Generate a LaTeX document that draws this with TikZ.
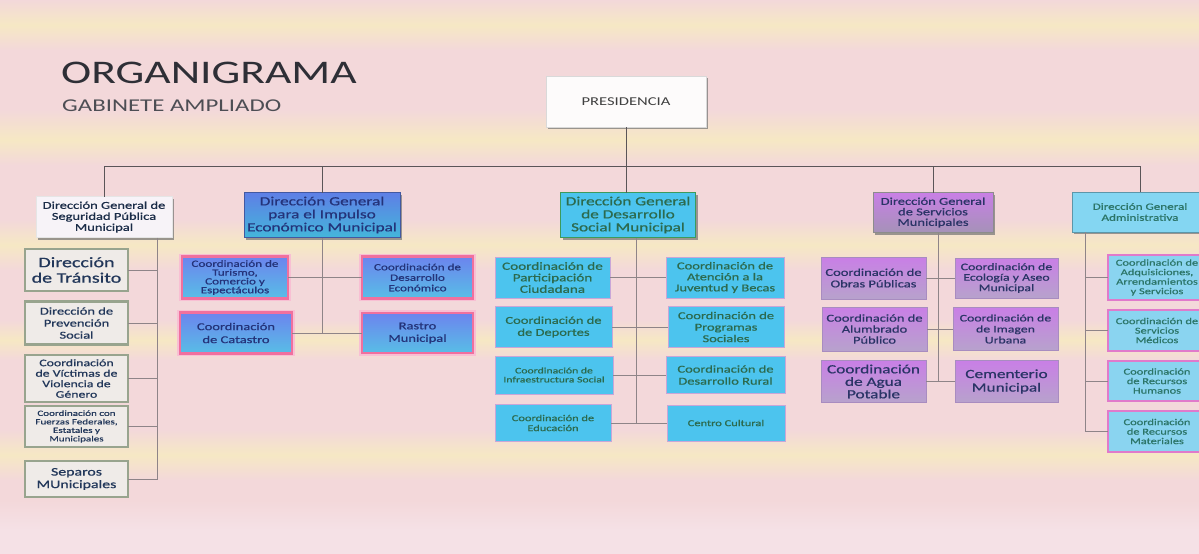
\documentclass[tikz,border=0pt]{standalone}
\usepackage{fontspec}
\setmainfont{Carlito}[FakeStretch=1.38, FakeBold=0.8]
\newfontfamily\titlefont{Carlito}[FakeStretch=1.38]
\usetikzlibrary{shadows}
\newcommand\fsz[2]{\fontsize{#1pt}{#2pt}\selectfont}
\definecolor{bgA}{HTML}{F3D8DA}
\definecolor{bgB}{HTML}{F6E8C4}
\definecolor{bgC}{HTML}{F5E1E6}
\definecolor{titlec}{HTML}{2E2F36}
\definecolor{busc}{HTML}{5A5558}
\definecolor{linkc}{HTML}{8E8488}
\definecolor{segf}{HTML}{EFEBE8}
\definecolor{segb}{HTML}{98A48E}
\definecolor{segt}{HTML}{22375A}
\definecolor{dgsegf}{HTML}{F7F3F8}
\definecolor{impA}{HTML}{6C84EE}
\definecolor{impB}{HTML}{58BEE6}
\definecolor{impglow}{HTML}{F0709E}
\definecolor{impt}{HTML}{24337A}
\definecolor{dgimpA}{HTML}{5E7FE6}
\definecolor{dgimpB}{HTML}{44B6DA}
\definecolor{socf}{HTML}{4CC4EE}
\definecolor{socb}{HTML}{C8A6D8}
\definecolor{dgsocb}{HTML}{3C9A5C}
\definecolor{soct}{HTML}{2C6A4E}
\definecolor{servA}{HTML}{C97FE6}
\definecolor{servB}{HTML}{B7A2CC}
\definecolor{servb}{HTML}{A88CC0}
\definecolor{servt}{HTML}{2A3466}
\definecolor{admf}{HTML}{8AD4F0}
\definecolor{admb}{HTML}{E07ACB}
\definecolor{admt}{HTML}{2C7568}
\definecolor{dgadmf}{HTML}{84D6F2}
\definecolor{presf}{HTML}{FDFBFB}
\tikzset{
  box/.style={align=center, inner sep=0pt, outer sep=0pt},
  dgshadow/.style={drop shadow={shadow xshift=2pt, shadow yshift=-2pt, fill=black!55, opacity=.7}},
  pres/.style={box, fill=presf, draw=black!15, line width=.6pt, text=black!75, dgshadow},
  dgseg/.style={box, fill=dgsegf, draw=black!10, line width=.6pt, text=segt!80!black, dgshadow},
  segbox/.style={box, fill=segf, draw=segb, line width=2.2pt, text=segt},
  dgimp/.style={box, top color=dgimpA, bottom color=dgimpB, draw=dgimpA!70!black, line width=.8pt, text=impt, dgshadow},
  impbox/.style={box, top color=impA, bottom color=impB, draw=impglow, line width=2.4pt, text=impt,
     preaction={draw=impglow!45, line width=5.5pt}},
  dgsoc/.style={box, fill=socf, draw=dgsocb, line width=1.6pt, text=soct, dgshadow},
  socbox/.style={box, fill=socf, draw=socb, line width=1pt, text=soct},
  dgserv/.style={box, top color=servA, bottom color=servB!90!black, draw=black!45, line width=.8pt, text=servt, dgshadow},
  servbox/.style={box, top color=servA, bottom color=servB, draw=servb, line width=1pt, text=servt},
  dgadm/.style={box, fill=dgadmf, draw=dgadmf!70!black, line width=.8pt, text=admt, dgshadow},
  admbox/.style={box, fill=admf, draw=admb, line width=1.4pt, text=admt},
  bus/.style={draw=busc, line width=.8pt},
  link/.style={draw=linkc, line width=.6pt}
}
\begin{document}
\begin{tikzpicture}[x=1pt,y=-1pt]
\useasboundingbox (0,0) rectangle (1199,554);
\clip (0,0) rectangle (1199,554);
% background
\fill[bgA] (0,0) rectangle (1199,554);
\foreach \ya/\yb/\ca/\cb in {0/25/bgA/bgB, 25/50/bgB/bgA, 110/140/bgA/bgB, 140/165/bgB/bgA,
   220/245/bgA/bgB, 245/270/bgB/bgA, 320/340/bgA/bgB, 340/360/bgB/bgA,
   430/455/bgA/bgB, 455/480/bgB/bgA, 500/530/bgA/bgC, 530/554/bgC/bgC}
  {\shade[top color=\ca, bottom color=\cb] (0,\ya) rectangle (1199,\yb);}
% title
\node[anchor=base west, font=\titlefont\fsz{33}{33}, text=titlec, inner sep=0pt] (title) at (61,83) {ORGANIGRAMA};
\node[anchor=base west, font=\titlefont\fsz{18}{18}, text=titlec!85, inner sep=0pt] (subtitle) at (62,111) {GABINETE AMPLIADO};
% presidencia
\node[pres, minimum width=160pt, minimum height=51pt, font=\titlefont\fsz{12}{12}] (pres) at (626,101.5) {PRESIDENCIA};
% direcciones generales
\node[dgseg, minimum width=136pt, minimum height=41pt, font=\fsz{10.5}{11}] (dgseg) at (104,217) {Dirección General de\\Seguridad Pública\\Municipal};
\node[dgimp, minimum width=156pt, minimum height=45pt, font=\fsz{12.5}{13}] (dgimp) at (322,215) {Dirección General\\para el Impulso\\Económico Municipal};
\node[dgsoc, minimum width=135pt, minimum height=45pt, font=\fsz{12.5}{13}] (dgsoc) at (628,215) {Dirección General\\de Desarrollo\\Social Municipal};
\node[dgserv, minimum width=120pt, minimum height=40pt, font=\fsz{10.5}{10.5}] (dgserv) at (933,212.5) {Dirección General\\de Servicios\\Municipales};
\node[dgadm, minimum width=136pt, minimum height=40pt, font=\fsz{9.5}{11}] (dgadm) at (1140,212) {Dirección General\\Administrativa};
% seguridad
\node[segbox, minimum width=103pt, minimum height=42pt, font=\fsz{14.5}{15.5}] (transito) at (76.5,270) {Dirección\\de Tránsito};
\node[segbox, minimum width=103pt, minimum height=43pt, font=\fsz{10.5}{12}] (prevencion) at (76.5,323) {Dirección de\\Prevención\\Social};
\node[segbox, minimum width=103pt, minimum height=47pt, font=\fsz{10}{10.5}] (victimas) at (76.5,378.5) {Coordinación\\de Víctimas de\\Violencia de\\Género};
\node[segbox, minimum width=103pt, minimum height=41pt, font=\fsz{8}{8.5}] (fuerzas) at (76.5,426.5) {Coordinación con\\Fuerzas Federales,\\Estatales y\\Municipales};
\node[segbox, minimum width=103pt, minimum height=36pt, font=\fsz{11.5}{12.5}] (separos) at (76.5,479) {Separos\\MUnicipales};
% impulso economico
\node[impbox, minimum width=106pt, minimum height=42pt, font=\fsz{9.5}{8.8}] (turismo) at (235,277.5) {Coordinación de\\Turismo,\\Comercio y\\Espectáculos};
\node[impbox, minimum width=112pt, minimum height=41pt, font=\fsz{10.5}{13}] (catastro) at (236,333) {Coordinación\\de Catastro};
\node[impbox, minimum width=111pt, minimum height=42pt, font=\fsz{9.5}{10.5}] (desaecon) at (417.5,277.5) {Coordinación de\\Desarrollo\\Económico};
\node[impbox, minimum width=111pt, minimum height=40pt, font=\fsz{10.5}{12.5}] (rastro) at (417.5,333) {Rastro\\Municipal};
% desarrollo social
\node[socbox, minimum width=115pt, minimum height=41pt, font=\fsz{11}{11.5}] (partic) at (552.5,277.5) {Coordinación de\\Participación\\Ciudadana};
\node[socbox, minimum width=117pt, minimum height=41pt, font=\fsz{10.5}{12}] (deportes) at (553.5,327) {Coordinación de\\de Deportes};
\node[socbox, minimum width=118pt, minimum height=38pt, font=\fsz{8.5}{9}] (infra) at (554,375) {Coordinación de\\Infraestructura Social};
\node[socbox, minimum width=116pt, minimum height=37pt, font=\fsz{9}{10}] (educ) at (553,423) {Coordinación de\\Educación};
\node[socbox, minimum width=118pt, minimum height=41pt, font=\fsz{10.5}{11}] (juventud) at (725,277.5) {Coordinación de\\Atención a la\\Juventud y Becas};
\node[socbox, minimum width=116pt, minimum height=41pt, font=\fsz{10.5}{11.5}] (programas) at (726,327) {Coordinación de\\Programas\\Sociales};
\node[socbox, minimum width=119pt, minimum height=37pt, font=\fsz{10.5}{12}] (rural) at (725.5,375) {Coordinación de\\Desarrollo Rural};
\node[socbox, minimum width=118pt, minimum height=36pt, font=\fsz{9}{10}] (centro) at (726,423) {Centro Cultural};
% servicios municipales
\node[servbox, minimum width=105pt, minimum height=42pt, font=\fsz{10.5}{11.5}] (obras) at (873.5,278) {Coordinación de\\Obras Públicas};
\node[servbox, minimum width=105pt, minimum height=44pt, font=\fsz{10.5}{11}] (alumbrado) at (874.5,329) {Coordinación de\\Alumbrado\\Público};
\node[servbox, minimum width=105pt, minimum height=42pt, font=\fsz{12.5}{12.5}] (agua) at (873.5,381.5) {Coordinación\\de Agua\\Potable};
\node[servbox, minimum width=103pt, minimum height=40pt, font=\fsz{10}{10.5}] (ecologia) at (1006.5,278) {Coordinación de\\Ecología y Aseo\\Municipal};
\node[servbox, minimum width=105pt, minimum height=43pt, font=\fsz{10}{11}] (imagen) at (1005.5,329) {Coordinación de\\de Imagen\\Urbana};
\node[servbox, minimum width=103pt, minimum height=42pt, font=\fsz{12.5}{13.5}] (cementerio) at (1006.5,381.5) {Cementerio\\Municipal};
% administrativa
\node[admbox, minimum width=98pt, minimum height=45pt, font=\fsz{9}{9.5}] (adq) at (1157,277.5) {Coordinación de\\Adquisiciones,\\Arrendamientos\\y Servicios};
\node[admbox, minimum width=98pt, minimum height=41pt, font=\fsz{9}{9.5}] (medicos) at (1157,330.5) {Coordinación de\\Servicios\\Médicos};
\node[admbox, minimum width=98pt, minimum height=40pt, font=\fsz{9}{9.5}] (rh) at (1157,381) {Coordinación\\de Recursos\\Humanos};
\node[admbox, minimum width=98pt, minimum height=41pt, font=\fsz{9}{9.5}] (rm) at (1157,431.5) {Coordinación\\de Recursos\\Materiales};
% main bus
\coordinate (bus) at (0,166);
\draw[bus] (pres.south) -- (pres.south |- dgsoc.north);
\draw[bus] (dgseg.north) -- (dgseg.north |- bus) -- (dgadm.north |- bus) -- (dgadm.north);
\draw[bus] (dgimp.north |- bus) -- (dgimp.north);
\draw[bus] (dgserv.north |- bus) -- (dgserv.north);
% seguridad spine
\coordinate (segsp) at (157,0);
\draw[link] (dgseg.south -| segsp) |- (separos.east);
\foreach \n in {transito,prevencion,victimas,fuerzas}
  \draw[link] (\n.east) -- (\n.east -| segsp);
% impulso
\draw[link] (dgimp.south) -- (dgimp.south |- rastro.west);
\draw[link] (turismo.east) -- (desaecon.west);
\draw[link] (catastro.east) -- (rastro.west);
% social
\coordinate (socsp) at (636,0);
\draw[link] (dgsoc.south -| socsp) -- (socsp |- centro.west);
\draw[link] (partic.east) -- (juventud.west);
\draw[link] (deportes.east) -- (programas.west);
\draw[link] (infra.east) -- (rural.west);
\draw[link] (educ.east) -- (centro.west);
% servicios
\coordinate (servsp) at (938,0);
\draw[link] (dgserv.south -| servsp) -- (servsp |- cementerio.west);
\draw[link] (obras.east) -- (ecologia.west);
\draw[link] (alumbrado.east) -- (imagen.west);
\draw[link] (agua.east) -- (cementerio.west);
% administrativa
\coordinate (admsp) at (1085,0);
\draw[link] (dgadm.south -| admsp) |- (rm.west);
\foreach \n in {adq,medicos,rh}
  \draw[link] (\n.west) -- (\n.west -| admsp);
\end{tikzpicture}
\end{document}
